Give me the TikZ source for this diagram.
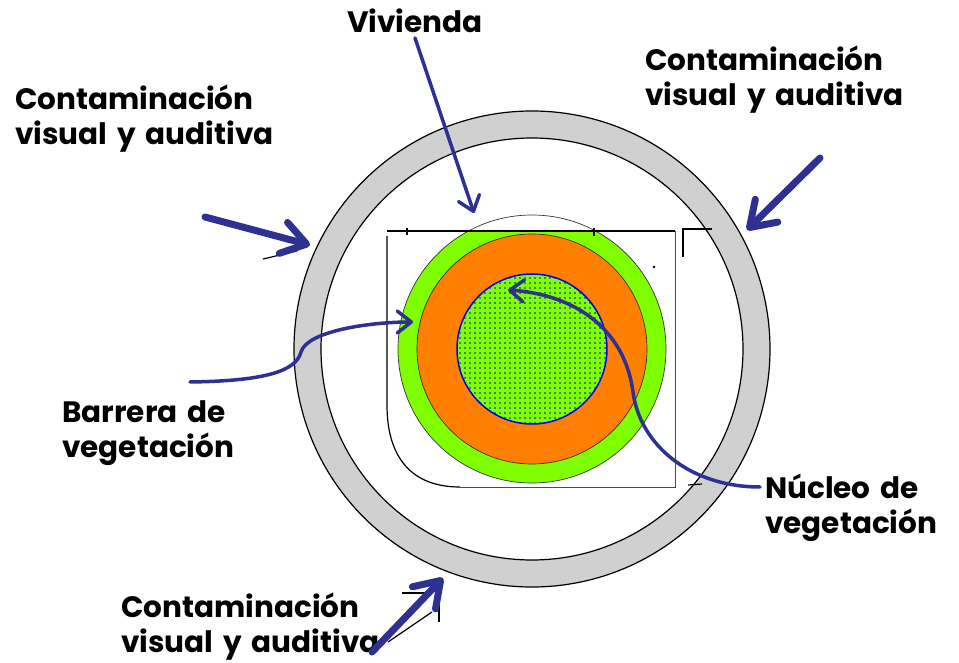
\documentclass[tikz,border=0pt]{standalone}
\usepackage{fontspec}
\setmainfont{Poppins}
\usetikzlibrary{arrows.meta,patterns.meta}
\definecolor{arrowblue}{RGB}{46,49,146}
\definecolor{ringgray}{RGB}{208,208,208}
\definecolor{vegreen}{RGB}{128,255,0}
\definecolor{vegorange}{RGB}{255,128,0}
\begin{document}
\begin{tikzpicture}[x=1pt,y=-1pt,
  lbl/.style={anchor=base west, inner sep=0pt, text width=320pt, align=left,
    font=\bfseries\fontsize{29.5}{35}\selectfont},
  bigarrow/.style={draw=arrowblue, line width=7pt, line cap=round,
    -{Straight Barb[length=24pt,width=32pt,round]}},
  thinarrow/.style={draw=arrowblue, line width=3.5pt, line cap=round,
    -{Straight Barb[length=14pt,width=22pt,round]}},
  outline/.style={draw=black, line width=1.2pt},
  fineline/.style={draw=black!80, line width=0.7pt},
  artifact/.style={draw=black, line width=1.2pt}
]
\useasboundingbox[fill=white] (0,0) rectangle (959,663);
\coordinate (c) at (532,349);
% outer ring
\fill[ringgray, even odd rule] (c) circle[radius=238pt] (c) circle[radius=211pt];
\draw[outline] (c) circle[radius=238pt];
\draw[outline] (c) circle[radius=211pt];
% vegetation barrier (clipped at the top line of the house)
\begin{scope}
  \clip (300,231) rectangle (760,600);
  \fill[vegreen] (c) circle[radius=134pt];
\end{scope}
\draw[fineline] (c) circle[radius=134pt];
% orange ring
\filldraw[fill=vegorange, fineline] (c) circle[radius=115pt];
% nucleus
\fill[vegreen] (c) circle[radius=75pt];
\fill[pattern={Dots[distance=5pt,radius=0.85pt]}, pattern color=blue!80!black] (c) circle[radius=75pt];
\draw[blue, line width=1.5pt] (c) circle[radius=75pt];
% house outline
\draw[outline] (387,231) -- (675,231);
\draw[outline] (407,228) -- (407,235);
\draw[outline] (594,228) -- (594,236);
\draw[draw=black!70, line width=1pt] (675,231) -- (675,487) -- (460,487);
\draw[outline] (387,236) -- (387,405) .. controls (387,458) and (412,487) .. (460,487);
\fill (654,267) circle[radius=1.3pt];
\draw[outline] (683,257) -- (683,229) -- (712,229);
% small stray strokes
\draw[artifact] (263,259) -- (297,251);
\draw[artifact] (402,593) -- (425,593);
\draw[artifact] (439,593) -- (439,622);
\draw[artifact] (388,642) -- (432,612);
\draw[artifact] (688,485) -- (702,484);
% arrow end points
\coordinate (tlS) at (205,217);  \coordinate (tlT) at (310,245);
\coordinate (trS) at (820,158);  \coordinate (trT) at (747,230);
\coordinate (bS) at (372,652);   \coordinate (bT) at (443,578);
\coordinate (vT) at (474,213);
\coordinate (baS) at (190,382);  \coordinate (baT) at (413,322);
\coordinate (nuS) at (760,487);  \coordinate (nuT) at (508,290);
% labels
\node[lbl] (viv) at (347,33) {Vivienda};
\node[lbl] (ctl) at (15,110) {Contaminación\\visual y auditiva};
\node[lbl] (ctr) at (645,71) {Contaminación\\visual y auditiva};
\node[lbl] (bar) at (62,422) {Barrera de\\vegetación};
\node[lbl] (nuc) at (765,498) {Núcleo de\\vegetación};
\node[lbl] (cb) at (121,617) {Contaminación\\visual y auditiva};
% arrows
\draw[bigarrow] (tlS) -- (tlT);
\draw[bigarrow] (trS) -- (trT);
\draw[bigarrow] (bS) -- (bT);
\draw[thinarrow] (415,38) -- (vT);
\draw[thinarrow] (baS) .. controls (262,381) and (296,372) .. (301,352)
  .. controls (307,331) and (370,322) .. (baT);
\draw[thinarrow] (nuS) .. controls (690,487) and (640,445) .. (633,392)
  .. controls (624,325) and (570,294) .. (nuT);
\end{tikzpicture}
\end{document}
